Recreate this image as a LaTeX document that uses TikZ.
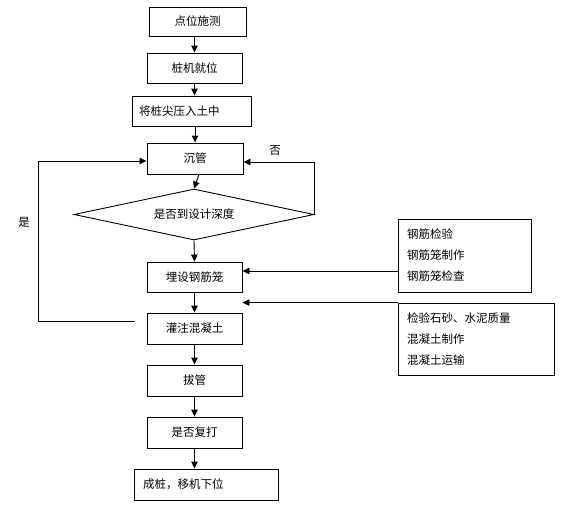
\documentclass[tikz,border=0pt]{standalone}
\usepackage{fontspec}
\newfontfamily\cjk{Noto Sans CJK SC}
\usetikzlibrary{shapes.geometric,arrows.meta}
\begin{document}
\begin{tikzpicture}[x=1pt,y=-1pt,
  every node/.style={font=\cjk\fontsize{11.5}{21}\selectfont},
  box/.style={draw,line width=0.9pt,inner sep=0pt},
  sidebox/.style={draw,line width=0.9pt,inner xsep=9pt,inner ysep=0pt,align=left},
  arr/.style={line width=0.9pt,-{Triangle[length=7pt,width=6.5pt]}},
  ln/.style={line width=0.9pt}]
\fill[white] (0,0) rectangle (570,512);
\useasboundingbox (0,0) rectangle (570,512);
\node[box,minimum width=97pt,minimum height=29pt] (n1) at (197.5,21.5) {点位施测};
\node[box,minimum width=95pt,minimum height=30pt] (n2) at (194.5,68) {桩机就位};
\node[box,minimum width=119pt,minimum height=30pt,text width=105pt,align=left,inner xsep=7pt] (n3) at (191.5,111) {将桩尖压入土中};
\node[box,minimum width=96pt,minimum height=31pt] (n4) at (195,158.5) {沉管};
\node[draw,line width=0.9pt,diamond,aspect=4.7,minimum width=240pt,minimum height=51pt,inner sep=0pt] (dia) at (194,214.5) {是否到设计深度};
\node[box,minimum width=95pt,minimum height=30pt] (n6) at (194.5,277) {埋设钢筋笼};
\node[box,minimum width=95pt,minimum height=31pt] (n7) at (194.5,328.5) {灌注混凝土};
\node[box,minimum width=95pt,minimum height=31pt] (n8) at (194.5,380.5) {拔管};
\node[box,minimum width=95pt,minimum height=31pt] (n9) at (194.5,432.5) {是否复打};
\node[box,minimum width=144pt,minimum height=31pt,text width=126pt,align=left,inner xsep=9pt] (n10) at (206,484.5) {成桩，移机下位};
\node[sidebox,minimum width=133pt,minimum height=73pt,text width=115pt] (bA) at (464.5,255.5) {钢筋检验\\钢筋笼制作\\钢筋笼检查};
\node[sidebox,minimum width=156pt,minimum height=72pt,text width=138pt] (bB) at (476,339) {检验石砂、水泥质量\\混凝土制作\\混凝土运输};
\node (no) at (275,150) {否};
\node (yes) at (24,222) {是};
\draw[arr] (n1.south -| n2.north) -- (n2.north);
\draw[arr] (n2) -- (n3.north -| n2.south);
\draw[arr] (n3.south -| n4.north) -- (n4);
\draw[arr] ([xshift=4pt]n4.south) -- (dia.north);
\draw[arr] (dia.south) -- (n6.north);
\draw[arr] (n6) -- (n7);
\draw[arr] (n7) -- (n8);
\draw[arr] (n8) -- (n9);
\draw[arr] (n9.south) -- (n10.north -| n9.south);
\draw[arr] (dia.east) |- ([yshift=-3.5pt]n4.east);
\coordinate (ys) at (135,321);
\draw[arr] (ys) -- (38,321) |- ([yshift=-2.5pt]n4.west);
\coordinate (aA) at ([yshift=-15.5pt]bA.west);
\draw[arr] (aA) -- (aA -| n6.east);
\draw[arr] (bB.north west) -- (bB.north west -| n6.east);
\end{tikzpicture}
\end{document}
